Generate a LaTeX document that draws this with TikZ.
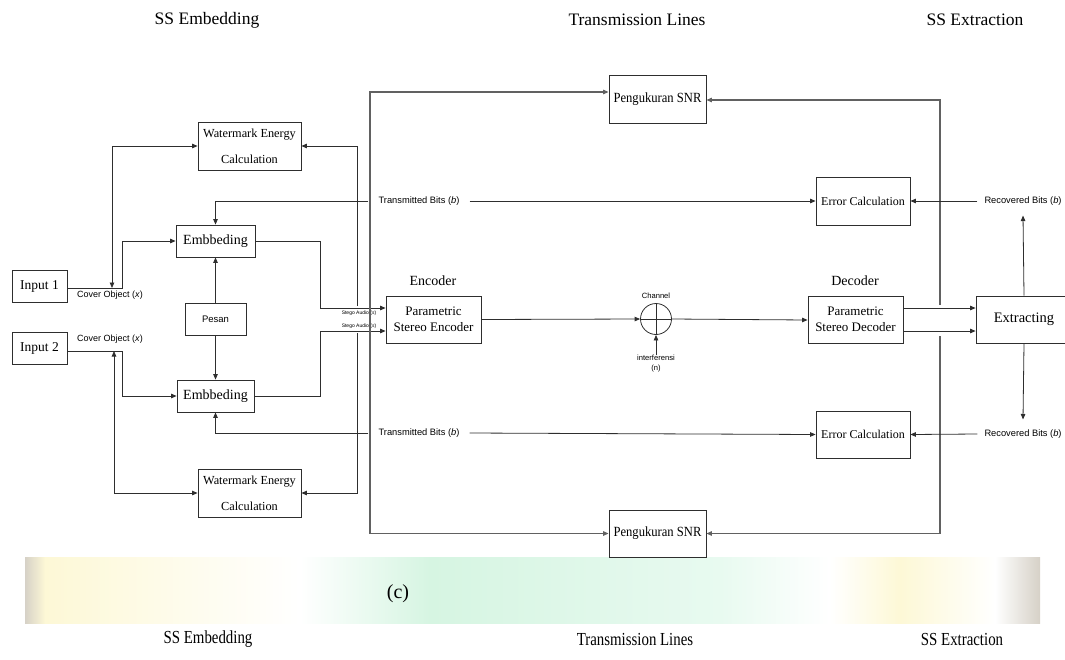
\documentclass[tikz,border=0pt]{standalone}
\usepackage{fontspec}
\setmainfont{Liberation Serif}
\newfontfamily\arialf{Liberation Sans}
\usetikzlibrary{arrows.meta}
\definecolor{mint}{RGB}{214,245,226}
\definecolor{mintlt}{RGB}{232,250,240}
\definecolor{paley}{RGB}{253,248,214}
\definecolor{palegr}{RGB}{214,209,199}
\begin{document}
\begin{tikzpicture}[x=1pt,y=-1pt,
  lc/.style={draw=black!82, line width=0.8pt},
  box/.style={lc, fill=white, inner sep=0pt, align=center},
  arr/.style={lc, -{Triangle[length=5.5pt,width=4.5pt]}},
  dbl/.style={lc, {Triangle[length=5.5pt,width=4.5pt]}-{Triangle[length=5.5pt,width=4.5pt]}},
  garr/.style={draw=black!62, line width=1.1pt, -{Triangle[length=5.5pt,width=4.5pt]}},
  gdbl/.style={draw=black!62, line width=1.1pt, {Triangle[length=5.5pt,width=4.5pt]}-{Triangle[length=5.5pt,width=4.5pt]}},
  lbl/.style={inner sep=0pt, align=center},
  tbig/.style={font=\fontsize{14}{16}\selectfont},
  tmed/.style={font=\fontsize{13}{16}\selectfont},
  tsm/.style={font=\fontsize{12}{14}\selectfont},
  wec/.style={font=\fontsize{12.3}{26}\selectfont},
  snr/.style={font=\fontsize{14}{16}\selectfont},
  sans/.style={font=\arialf\fontsize{9.3}{11}\selectfont},
  tiny/.style={font=\arialf\fontsize{7.6}{10}\selectfont},
  title/.style={font=\fontsize{17.5}{20}\selectfont},
]
\useasboundingbox (0,0) rectangle (1065,659);

% faint background band (watermark)
\shade[left color=palegr, right color=paley] (25,557) rectangle (45,623);
\shade[left color=paley, right color=white] (45,557) rectangle (300,623);
\shade[left color=white, right color=mint] (300,557) rectangle (430,623);
\shade[left color=mint, right color=mintlt] (430,557) rectangle (720,623);
\shade[left color=mintlt, right color=white] (720,557) rectangle (830,623);
\shade[left color=white, right color=paley] (830,557) rectangle (900,623);
\shade[left color=paley, right color=white] (900,557) rectangle (995,623);
\shade[left color=white, right color=palegr] (995,557) rectangle (1040,623);

% titles
\node[lbl, title] (t1) at (207,20) {SS Embedding};
\node[lbl, title] (t2) at (637,20) {Transmission Lines};
\node[lbl, title] (t3) at (975,20) {SS Extraction};
\node[lbl, font=\fontsize{20}{22}\selectfont] (cap) at (398,594) {(c)};
\node[lbl, title] (b1) at (208,639) {\scalebox{0.85}[1.05]{SS Embedding}};
\node[lbl, title] (b2) at (635,639) {\scalebox{0.85}[1.05]{Transmission Lines}};
\node[lbl, title] (b3) at (962,639) {\scalebox{0.85}[1.05]{SS Extraction}};

% boxes
\node[box, font=\fontsize{13.5}{16}\selectfont, minimum width=55pt, minimum height=32pt] (in1) at (39.5,286) {Input 1};
\node[box, font=\fontsize{13.5}{16}\selectfont, minimum width=55pt, minimum height=32pt] (in2) at (39.5,348) {Input 2};
\node[box, wec, minimum width=103pt, minimum height=48pt] (wec1) at (249.5,146) {Watermark Energy\\Calculation};
\node[box, wec, minimum width=103pt, minimum height=48pt] (wec2) at (249.5,493) {Watermark Energy\\Calculation};
\node[box, tbig, minimum width=79pt, minimum height=32pt] (emb1) at (215.5,241) {Embbeding};
\node[box, tbig, minimum width=77pt, minimum height=32pt] (emb2) at (215.5,396) {Embbeding};
\node[box, font=\arialf\fontsize{9.5}{11}\selectfont, minimum width=61pt, minimum height=32pt] (pesan) at (215.5,319) {Pesan};
\node[box, tmed, minimum width=95pt, minimum height=47pt] (enc) at (433.5,319.5) {Parametric\\Stereo Encoder};
\node[lbl, tbig] (encl) at (433,281) {Encoder};
\node[box, tmed, minimum width=95pt, minimum height=47pt] (dec) at (855.5,319.5) {Parametric\\Stereo Decoder};
\node[lbl, tbig] (decl) at (855,281) {Decoder};
\node[box, font=\fontsize{14.5}{16}\selectfont, minimum width=96pt, minimum height=47pt] (ext) at (1024,319.5) {Extracting};
\node[box, tsm, minimum width=94pt, minimum height=48pt] (err1) at (863,201) {Error Calculation};
\node[box, tsm, minimum width=94pt, minimum height=47pt] (err2) at (863,434.5) {Error Calculation};
\node[box, snr, minimum width=97pt, minimum height=48pt] (snr1) at (657.5,99) {\scalebox{0.9}[1]{Pengukuran SNR}};
\node[box, snr, minimum width=97pt, minimum height=47pt] (snr2) at (657.5,533.5) {\scalebox{0.9}[1]{Pengukuran SNR}};

% channel
\node[draw=black!82, line width=0.8pt, circle, minimum size=31pt, inner sep=0pt] (ch) at (656,319) {};
\draw[lc] (ch.north) -- (ch.south);
\draw[lc] (ch.west) -- (ch.east);
\node[lbl, tiny] (chl) at (656,296) {Channel};
\node[lbl, tiny, anchor=north] (intf) at (656,355) {interferensi\\(n)};

% labels
\node[lbl, sans, inner xsep=10pt] (tb1) at (419,201) {Transmitted Bits (\textit{b})};
\node[lbl, sans, inner xsep=10pt] (tb2) at (419,433) {Transmitted Bits (\textit{b})};
\node[lbl, sans, inner xsep=7pt, inner ysep=10pt] (rb1) at (1023,201) {Recovered Bits (\textit{b})};
\node[lbl, sans, inner xsep=7pt, inner ysep=10pt] (rb2) at (1023,434) {Recovered Bits (\textit{b})};
\node[lbl, font=\arialf\fontsize{9}{11}\selectfont] (co1) at (110,295) {Cover Object (\textit{x})};
\node[lbl, font=\arialf\fontsize{9}{11}\selectfont] (co2) at (110,339) {Cover Object (\textit{x})};
\node[lbl, font=\arialf\fontsize{5}{6}\selectfont] (sa1) at (359,313) {Stego Audio (\textit{s})};
\node[lbl, font=\arialf\fontsize{5}{6}\selectfont] (sa2) at (359,326.5) {Stego Audio (\textit{s})};

% connectors: inputs
\draw[arr] ([yshift=-2pt]in1.east) -- (122,288) |- (emb1.west);
\draw[dbl] (112,288) |- (wec1.west);
\draw[arr] ([yshift=-3pt]in2.east) -- (122,351) |- (emb2.west);
\draw[dbl] (114,351) |- (wec2.west);
\draw[arr] (pesan.north) -- (emb1.south);
\draw[arr] (pesan.south) -- (emb2.north);

% embedding to encoder
\draw[arr] (emb1.east) -- (320,241) -- (320,308) -- ([yshift=11.5pt]enc.west);
\draw[arr] (emb2.east) -- (320,396) -- (320,331) -- ([yshift=-11.5pt]enc.west);

% WEC feedback (line with jump)
\draw[arr] (357,306) |- (wec1.east);
\draw[arr] (357,333) |- (wec2.east);

% SNR lines
\draw[gdbl] ([yshift=7pt]snr1.west) -- (370,92) -- (370,533.5) -- (snr2.west);
\draw[garr] (940,305) -- (940,100) -- ([yshift=-1pt]snr1.east);
\draw[garr] (940,336) -- (940,533.5) -- (snr2.east);

% transmitted bits
\draw[arr] (tb1.west) -| (emb1.north);
\draw[arr] (tb1.east) -- (err1.west);
\draw[arr] (tb2.west) -| (emb2.south);
\draw[arr] (tb2.east) -- (err2.west);

% channel path
\draw[arr] (enc.east) -- (ch.west);
\draw[arr] (ch.east) -- ([yshift=-0.5pt]dec.west);
\draw[arr] (intf.north) -- (ch.south);

% decoder to extracting
\draw[arr] ([yshift=11.5pt]dec.east) -- ([yshift=11.5pt]ext.west);
\draw[arr] ([yshift=-11.5pt]dec.east) -- ([yshift=-11.5pt]ext.west);

% recovered bits
\draw[arr] (rb1.west) -- (err1.east);
\draw[arr] (rb2.west) -- (err2.east);
\draw[arr] (ext.north) -- (rb1.south);
\draw[arr] (ext.south) -- (rb2.north);
\end{tikzpicture}
\end{document}
